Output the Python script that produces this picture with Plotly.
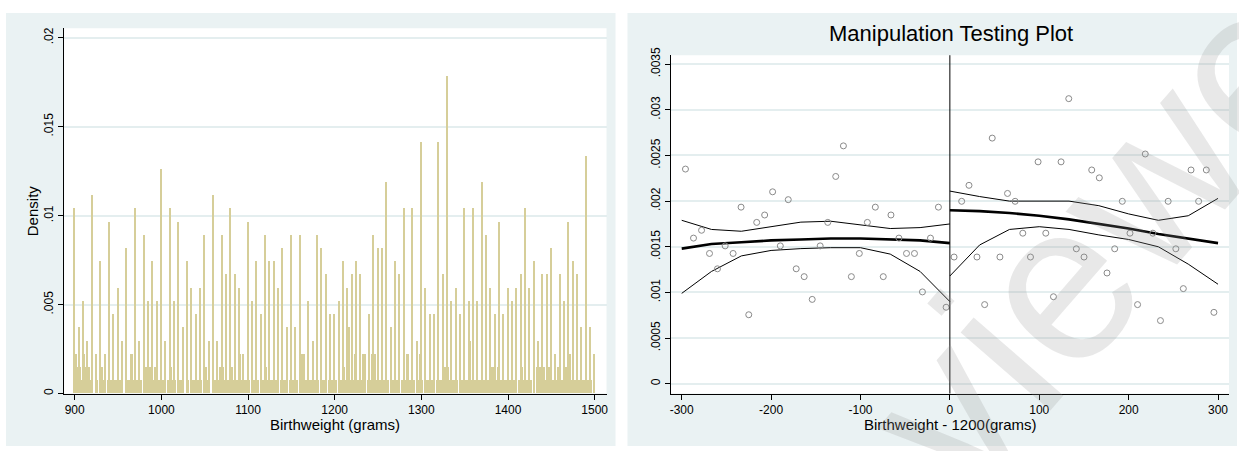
import plotly.graph_objects as go

W, H = 1239, 451

# ---------------- Left panel: histogram data ----------------
# spike bins at every 5 grams (900, 905, ..., 1500), heights in count units
spike_grams = list(range(900, 1501, 5))
spike_counts = [14, 5, 7, 4, 15, 3, 10, 3, 13, 6,
                8, 4, 11, 3, 14, 4, 12, 7, 10, 7,
                17, 4, 14, 7, 13, 5, 10, 8, 6, 8,
                12, 4, 15, 4, 12, 9, 14, 9, 8, 3,
                13, 7, 10, 6, 12, 10, 10, 8, 11, 5,
                12, 5, 12, 3, 7, 4, 12, 11, 9, 6,
                6, 7, 10, 8, 9, 10, 9, 3, 6, 12,
                11, 11, 16, 5, 10, 9, 14, 3, 14, 4,
                19, 8, 6, 6, 19, 9, 24, 7, 8, 6,
                14, 7, 14, 7, 16, 12, 8, 6, 13, 6,
                8, 7, 8, 9, 14, 8, 10, 4, 9, 9,
                11, 3, 9, 7, 13, 10, 9, 5, 18, 5,
                3]
# two in-between bins inside every 5-gram step
mid_a = [3, 2, 3, 2, 0, 1, 2, 0, 1, 1,
         1, 0, 1, 3, 1, 1, 2, 2, 1, 1,
         1, 0, 2, 1, 1, 0, 1, 1, 1, 1,
         2, 0, 1, 1, 2, 1, 2, 1, 3, 1,
         1, 1, 1, 1, 2, 1, 1, 0, 1, 0,
         1, 1, 3, 1, 1, 1, 1, 1, 0, 1,
         1, 1, 2, 5, 1, 1, 1, 0, 1, 3,
         1, 1, 1, 1, 1, 0, 1, 1, 1, 1,
         1, 1, 1, 0, 1, 2, 2, 1, 1, 1,
         1, 4, 1, 1, 1, 1, 2, 1, 1, 1,
         1, 1, 0, 2, 1, 1, 0, 2, 2, 2,
         1, 1, 1, 2, 3, 1, 1, 1, 1, 1]
mid_b = [2, 1, 2, 1, 0, 0, 1, 1, 1, 1,
         1, 0, 1, 1, 1, 0, 2, 2, 2, 1,
         1, 1, 1, 0, 1, 0, 0, 1, 1, 0,
         1, 0, 1, 2, 1, 1, 1, 1, 1, 1,
         0, 1, 0, 1, 1, 1, 1, 1, 1, 1,
         1, 0, 3, 1, 1, 1, 0, 1, 1, 1,
         0, 1, 1, 1, 3, 1, 3, 1, 3, 1,
         1, 1, 0, 1, 1, 1, 3, 1, 0, 3,
         0, 1, 1, 1, 1, 2, 1, 1, 0, 1,
         1, 1, 1, 1, 1, 1, 2, 2, 1, 1,
         1, 1, 1, 1, 1, 0, 2, 2, 1, 2,
         1, 2, 1, 2, 1, 1, 1, 1, 1, 0]
density_unit = 0.000742

hist_xticks = [900, 1000, 1100, 1200, 1300, 1400, 1500]
hist_xticktext = ["900", "1000", "1100", "1200", "1300", "1400", "1500"]
hist_yticks = [0, 0.005, 0.01, 0.015, 0.02]
hist_yticktext = ["0", ".005", ".01", ".015", ".02"]

# ---------------- Right panel: manipulation test data ----------------
bin_x_left = [-295.8, -286.8, -277.8, -268.9, -260.0, -251.4, -242.5, -233.6, -225.0, -216.1,
              -207.2, -198.3, -189.7, -180.8, -171.9, -163.0, -154.0, -145.1, -136.6, -127.7,
              -119.1, -110.2, -101.3, -92.3, -83.4, -74.5, -65.9, -57.0, -48.5, -39.6,
              -30.7, -21.7, -12.8, -4.2]
bin_y_left = [0.002351, 0.001595, 0.001681, 0.001427, 0.001259, 0.001510, 0.001427, 0.001934, 0.000756, 0.001767,
              0.001848, 0.002102, 0.001510, 0.002016, 0.001259, 0.001173, 0.000924, 0.001510, 0.001767, 0.002270,
              0.002605, 0.001173, 0.001427, 0.001767, 0.001934, 0.001173, 0.001848, 0.001595, 0.001427, 0.001427,
              0.001006, 0.001595, 0.001934, 0.000838]
bin_x_right = [4.7, 13.2, 21.4, 30.3, 38.9, 47.4, 56.0, 64.5, 73.0, 81.6,
               90.2, 98.7, 107.3, 115.9, 124.4, 133.0, 141.5, 150.1, 158.7, 167.2,
               175.8, 184.4, 192.9, 201.5, 210.0, 218.6, 227.1, 235.6, 244.2, 252.8,
               261.2, 269.8, 278.3, 286.9, 295.4]
bin_y_right = [0.001388, 0.001998, 0.002173, 0.001388, 0.000867, 0.002690, 0.001388, 0.002084, 0.001998, 0.001649,
               0.001388, 0.002430, 0.001649, 0.000953, 0.002430, 0.003122, 0.001478, 0.001388, 0.002341, 0.002255,
               0.001213, 0.001478, 0.001998, 0.001649, 0.000867, 0.002516, 0.001649, 0.000692, 0.001998, 0.001478,
               0.001042, 0.002341, 0.001998, 0.002341, 0.000782]

eval_left = [-300, -266.7, -233.3, -200, -166.7, -133.3, -100, -66.7, -33.3, 0]
est_left = [0.00148, 0.00153, 0.00155, 0.00157, 0.00158, 0.00159, 0.00159, 0.00158, 0.00157, 0.00154]
ci_hi_left = [0.00179, 0.00169, 0.00167, 0.00172, 0.00177, 0.00178, 0.00174, 0.00170, 0.00171, 0.00175]
ci_lo_left = [0.00099, 0.00123, 0.00140, 0.00146, 0.00148, 0.00149, 0.00149, 0.00142, 0.00123, 0.00090]

eval_right = [0, 33.3, 66.7, 100, 133.3, 166.7, 200, 233.3, 266.7, 300]
est_right = [0.00190, 0.00189, 0.00187, 0.00184, 0.00180, 0.00175, 0.00170, 0.00164, 0.00159, 0.00154]
ci_hi_right = [0.00211, 0.00205, 0.00200, 0.00200, 0.00200, 0.00195, 0.00186, 0.00179, 0.00184, 0.00203]
ci_lo_right = [0.00118, 0.00152, 0.00169, 0.00172, 0.00169, 0.00163, 0.00158, 0.00150, 0.00131, 0.00109]

rd_xticks = [-300, -200, -100, 0, 100, 200, 300]
rd_xticktext = ["-300", "-200", "-100", "0", "100", "200", "300"]
rd_yticks = [0, 0.0005, 0.001, 0.0015, 0.002, 0.0025, 0.003, 0.0035]
rd_yticktext = ["0", ".0005", ".001", ".0015", ".002", ".0025", ".003", ".0035"]

# ---------------- styling ----------------
FONT = "Liberation Sans, Arial, sans-serif"
BG = "#EAF2F3"
GRID = "#E4EEEF"
BAR = "#D6CE99"


def px(x):
    return x / W


def py(y):
    return 1 - y / H


# plot areas in pixels
L_x0, L_x1, L_y0, L_y1 = 63.3, 607.0, 20.7, 394.3
R_x0, R_x1, R_y0, R_y1 = 671.7, 1231.0, 48.3, 394.3

fig = go.Figure()

# histogram bars
bar_x, bar_y, bar_w = [], [], []
for g, c in zip(spike_grams, spike_counts):
    bar_x.append(g)
    bar_y.append(c * density_unit)
    bar_w.append(1.9)
for g, a, b in zip(spike_grams[:-1], mid_a, mid_b):
    bar_x += [g + 5 / 3, g + 10 / 3]
    bar_y += [a * density_unit, b * density_unit]
    bar_w += [1.7, 1.7]

fig.add_trace(go.Bar(x=bar_x, y=bar_y, width=bar_w, marker=dict(color=BAR, line=dict(width=0)),
                     xaxis="x", yaxis="y", showlegend=False))

# right panel
line_specs = [
    (eval_left, ci_hi_left, 1.0), (eval_left, ci_lo_left, 1.0), (eval_left, est_left, 2.6),
    (eval_right, ci_hi_right, 1.0), (eval_right, ci_lo_right, 1.0), (eval_right, est_right, 2.6),
]
for xs, ys, w in line_specs:
    fig.add_trace(go.Scatter(x=xs, y=ys, mode="lines", line=dict(color="black", width=w),
                             xaxis="x2", yaxis="y2", showlegend=False))
for xs, ys in [(bin_x_left, bin_y_left), (bin_x_right, bin_y_right)]:
    fig.add_trace(go.Scatter(x=xs, y=ys, mode="markers",
                             marker=dict(symbol="circle-open", size=6, color="#8a8a8a", line=dict(width=1)),
                             xaxis="x2", yaxis="y2", showlegend=False))

axis_common = dict(showline=True, linecolor="black", linewidth=1, ticks="outside", ticklen=5,
                   tickcolor="black", tickwidth=1, zeroline=False,
                   tickfont=dict(family=FONT, size=12, color="black"))

fig.update_layout(
    width=W, height=H,
    margin=dict(l=0, r=0, t=0, b=0),
    paper_bgcolor="white", plot_bgcolor="white",
    bargap=0,
    xaxis=dict(domain=[px(L_x0), px(L_x1)], range=[887.8, 1513.7], tickvals=hist_xticks,
               ticktext=hist_xticktext, showgrid=False, anchor="y", **axis_common),
    yaxis=dict(domain=[py(L_y1), py(L_y0)], range=[0, 0.02053], tickvals=hist_yticks,
               ticktext=hist_yticktext, tickangle=-90, showgrid=True, gridcolor=GRID, gridwidth=1.5,
               anchor="x", **axis_common),
    xaxis2=dict(domain=[px(R_x0), px(R_x1)], range=[-311.9, 312.3], tickvals=rd_xticks,
                ticktext=rd_xticktext, showgrid=False, anchor="y2", **axis_common),
    yaxis2=dict(domain=[py(R_y1), py(R_y0)], range=[-0.000107, 0.0035974], tickvals=rd_yticks,
                ticktext=rd_yticktext, tickangle=-90, showgrid=True, gridcolor=GRID, gridwidth=1.5,
                anchor="x2", **axis_common),
    showlegend=False,
)

shapes = [
    dict(type="rect", xref="paper", yref="paper", x0=px(5), x1=px(616), y0=py(448), y1=py(5),
         fillcolor=BG, line=dict(width=0), layer="below"),
    dict(type="rect", xref="paper", yref="paper", x0=px(628), x1=px(1239), y0=py(448), y1=py(5),
         fillcolor=BG, line=dict(width=0), layer="below"),
    dict(type="rect", xref="paper", yref="paper", x0=px(L_x0), x1=px(L_x1), y0=py(L_y1), y1=py(L_y0),
         fillcolor="white", line=dict(width=0), layer="below"),
    dict(type="rect", xref="paper", yref="paper", x0=px(R_x0), x1=px(R_x1), y0=py(R_y1), y1=py(R_y0),
         fillcolor="white", line=dict(width=0), layer="below"),
    dict(type="line", xref="x2", yref="y2 domain", x0=0, x1=0, y0=0, y1=1,
         line=dict(color="black", width=1)),
]
fig.update_layout(shapes=shapes)

annotations = [
    dict(text="Density", x=px(32.4), y=py(207.5), textangle=-90, yanchor="middle",
         font=dict(family=FONT, size=15, color="black")),
    dict(text="Birthweight (grams)", x=px(335), y=py(425.5), yanchor="middle",
         font=dict(family=FONT, size=15, color="black")),
    dict(text="Birthweight - 1200(grams)", x=px(951.4), y=py(425.5), yanchor="middle",
         font=dict(family=FONT, size=15, color="black")),
    dict(text="Manipulation Testing Plot", x=px(952.8), y=py(40.5), yanchor="bottom",
         font=dict(family=FONT, size=22, color="black")),
    dict(text="Reviewer", x=px(1028), y=py(318), textangle=-49, yanchor="middle",
         font=dict(family=FONT, size=225, color="rgba(150,150,150,0.22)")),
]
for a in annotations:
    a.update(xref="paper", yref="paper", xanchor="center", showarrow=False)
fig.update_layout(annotations=annotations)

fig.write_html("out.html", config={"displayModeBar": False},
               post_script="document.body.style.margin='0px';document.body.style.padding='0px';"
                           "document.body.style.overflow='hidden';")
